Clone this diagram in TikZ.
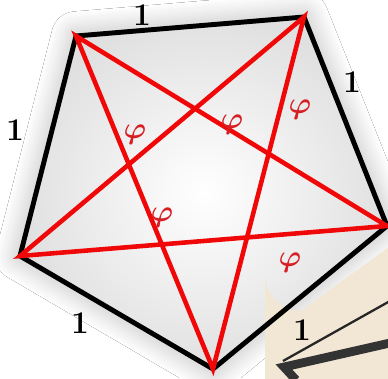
\documentclass[tikz,border=0pt]{standalone}
\usepackage{bm}
\usetikzlibrary{shadows.blur}

\definecolor{starred}{RGB}{240,8,8}
\definecolor{phired}{RGB}{215,30,35}
\definecolor{beige}{RGB}{242,230,212}

\begin{document}
\begin{tikzpicture}[
    x=0.02cm, y=-0.02cm,
    % Styles
    side/.style={draw=black, line width=2.8pt, line join=miter},
    diag/.style={draw=starred, line width=2.6pt},
    unit/.style={font=\fontsize{18}{18}\selectfont\bfseries, text=black, inner sep=1pt},
    ratio/.style={font=\fontsize{17}{17}\selectfont, text=phired, inner sep=1pt}
]
\useasboundingbox (0,0) rectangle (388,378);
\fill[white] (0,0) rectangle (388,378);

% 1. Pentagon corners
\coordinate (tl) at (76,36);
\coordinate (tr) at (304,17);
\coordinate (rt) at (387,226);
\coordinate (bt) at (213,369);
\coordinate (lf) at (20,256);

% 2. Shaded background
\shade[inner color=white, outer color=gray!24,
    blur shadow={shadow xshift=0pt, shadow yshift=0pt, shadow blur radius=14pt,
        shadow blur steps=20, shadow opacity=30}]
    (tl) -- (tr) -- (rt) -- (bt) -- (lf) -- cycle;
\fill[beige] (265,400) -- (265,275) arc (180:90:36) -- (400,239) -- (400,400) -- cycle;

% 3. Cropped neighbour drawing
\coordinate (nb1) at (283,361);
\coordinate (nb2) at (390,301);
\coordinate (nb3) at (390,343);
\coordinate (nb4) at (284,367);
\coordinate (nb5) at (296,380);
\draw[black!85, line width=1.3pt] (nb1) -- (nb2);
\draw[black!80, line width=5pt, line join=miter] (nb3) -- (nb4) -- (nb5);

% 4. Sides and diagonals
\draw[side] (tl) -- (tr) -- (rt) -- (bt) -- (lf) -- cycle;
\draw[diag] (tl) -- (rt) -- (lf) -- (tr) -- (bt) -- cycle;

% 5. Labels
\node[unit] (s1) at (142,15) {1};
\node[unit] (s2) at (352,82) {1};
\node[unit] (s3) at (15,130) {1};
\node[unit] (s4) at (80,323) {1};
\node[unit] (s5) at (302,330) {1};

\node[ratio] (p1) at (135,135) {$\bm{\varphi}$};
\node[ratio] (p2) at (232,125) {$\bm{\varphi}$};
\node[ratio] (p3) at (300,110) {$\bm{\varphi}$};
\node[ratio] (p4) at (162,218) {$\bm{\varphi}$};
\node[ratio] (p5) at (290,263) {$\bm{\varphi}$};

\end{tikzpicture}
\end{document}
